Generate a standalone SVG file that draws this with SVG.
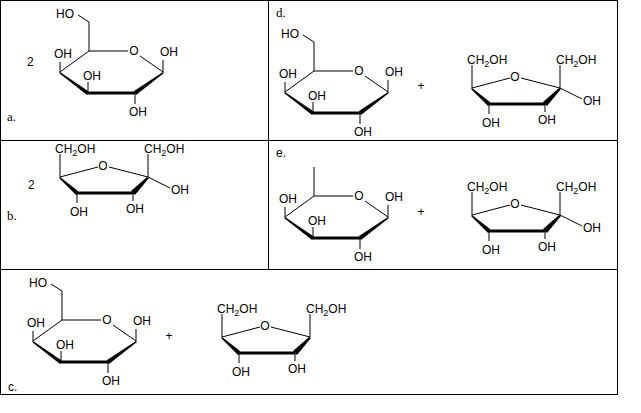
<svg xmlns="http://www.w3.org/2000/svg" width="641" height="413" viewBox="0 0 641 413">
<style>
line,polyline{stroke:#000;stroke-width:1;fill:none}
.w{fill:#000;stroke:none}
text{font-family:"Liberation Sans",Arial,sans-serif;font-size:12px;fill:#000}
.s{font-family:"Liberation Serif","Times New Roman",serif;font-size:13px}
.sub{font-size:9px}
</style>
<defs>
<g id="pyr">
<line x1="89" y1="51" x2="128" y2="51"/>
<text x="134" y="55" text-anchor="middle">O</text>
<line x1="140" y1="56" x2="163" y2="72"/>
<line x1="60" y1="72" x2="89" y2="51"/>
<polygon class="w" points="60,72 88,91 87,95 59,73"/>
<polygon class="w" points="87,91.5 135,91.5 135,94.5 87,94.5"/>
<polygon class="w" points="134,91 163,72 164,73 136,95"/>
<line x1="89" y1="51" x2="89" y2="22"/>
<line x1="60" y1="72" x2="60" y2="62"/>
<text x="63" y="58" text-anchor="middle">OH</text>
<line x1="88" y1="93" x2="88" y2="82"/>
<text x="92" y="80" text-anchor="middle">OH</text>
<line x1="135" y1="93" x2="135" y2="104"/>
<text x="138" y="116" text-anchor="middle">OH</text>
<line x1="163" y1="72" x2="163" y2="60"/>
<text x="169" y="56" text-anchor="middle">OH</text>
</g>
<g id="ho">
<line x1="89" y1="22" x2="78" y2="15"/>
<text x="65" y="18" text-anchor="middle">HO</text>
</g>
<g id="fur">
<line x1="60" y1="177" x2="98" y2="167"/>
<text x="103" y="170" text-anchor="middle">O</text>
<line x1="109" y1="167" x2="148" y2="177"/>
<polygon class="w" points="60,177 78,191 76,195 59,178"/>
<polygon class="w" points="76,191.5 133,191.5 133,194.5 76,194.5"/>
<polygon class="w" points="131,191 147,177 149,178 135,195"/>
<line x1="60" y1="177" x2="60" y2="154"/>
<text x="55" y="153">CH<tspan class="sub" dy="3">2</tspan><tspan dy="-3">OH</tspan></text>
<line x1="148" y1="177" x2="148" y2="154"/>
<text x="144" y="153">CH<tspan class="sub" dy="3">2</tspan><tspan dy="-3">OH</tspan></text>
<line x1="77" y1="193" x2="77" y2="203"/>
<text x="79" y="216" text-anchor="middle">OH</text>
<line x1="133" y1="193" x2="133" y2="201"/>
<text x="135" y="213" text-anchor="middle">OH</text>
</g>
<g id="furOH">
<line x1="148" y1="177" x2="170" y2="188"/>
<text x="180" y="194" text-anchor="middle">OH</text>
</g>
</defs>
<g id="frame">
<rect x="0.5" y="0.5" width="617" height="394" fill="#fff" stroke="#000"/>
<line x1="0" y1="140.5" x2="618" y2="140.5"/>
<line x1="0" y1="269.5" x2="618" y2="269.5"/>
<line x1="268.5" y1="0" x2="268.5" y2="270"/>
</g>
<g id="panel-a">
<use href="#pyr"/><use href="#ho"/>
<text x="27" y="66">2</text>
<text class="s" x="7" y="121">a.</text>
</g>
<g id="panel-b">
<use href="#fur"/><use href="#furOH"/>
<text x="28" y="189">2</text>
<text class="s" x="7" y="220">b.</text>
</g>
<g id="panel-c">
<use href="#pyr" transform="translate(-27,269)"/><use href="#ho" transform="translate(-27,269)"/>
<text x="169" y="340" text-anchor="middle">+</text>
<use href="#fur" transform="translate(162,160)"/>
<text x="8" y="391">c.</text>
</g>
<g id="panel-d">
<use href="#pyr" transform="translate(225,20)"/><use href="#ho" transform="translate(225,20)"/>
<text x="421" y="90" text-anchor="middle">+</text>
<use href="#fur" transform="translate(412,-89)"/><use href="#furOH" transform="translate(412,-89)"/>
<text class="s" x="276" y="17">d.</text>
</g>
<g id="panel-e">
<use href="#pyr" transform="translate(225,145)"/>
<text x="421" y="216" text-anchor="middle">+</text>
<use href="#fur" transform="translate(412,38)"/><use href="#furOH" transform="translate(412,38)"/>
<text x="276" y="157">e.</text>
</g>
</svg>
